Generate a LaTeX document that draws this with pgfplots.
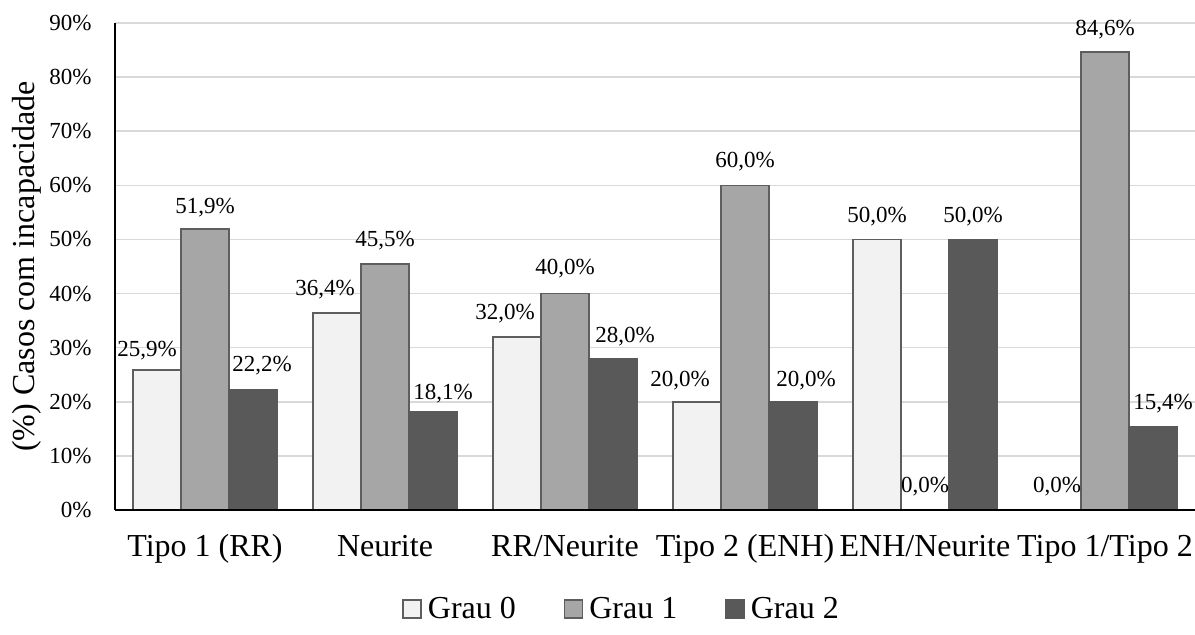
\documentclass[border=0pt]{standalone}
\usepackage{fontspec}
\setmainfont{Liberation Serif}
\usepackage{pgfplots}
\usepackage{pgfplotstable}
\pgfplotsset{compat=1.18}
\pgfkeys{/pgf/number format/assume math mode=true}

\definecolor{grauzero}{HTML}{F2F2F2}
\definecolor{grauum}{HTML}{A6A6A6}
\definecolor{graudois}{HTML}{595959}
\definecolor{borda}{HTML}{5E5E5E}
\definecolor{grade}{HTML}{D9D9D9}

% x = category index, y = percentage, dx/dy = label offsets (pt)
\pgfplotstableread{
x y dx dy
0 25.9 -5 6.5
1 36.4 -6 9
2 32.0 -6 8.5
3 20.0 -8.5 7.5
4 50.0 0 8.5
5 0.0 0 8.5
}\tabzero
\pgfplotstableread{
x y dx dy
0 51.9 0 8
1 45.5 0 8.5
2 40.0 0 9.3
3 60.0 0 9
4 0.0 0 8.5
5 84.6 0 8.5
}\tabum
\pgfplotstableread{
x y dx dy
0 22.2 4.5 9
1 18.1 5 6.5
2 28.0 6 7.75
3 20.0 6.5 7.5
4 50.0 0 8.5
5 15.4 5 8.5
}\tabdois

\begin{document}
\begin{tikzpicture}
\useasboundingbox (-57.5pt,-62.5pt) rectangle (540pt,255pt);
\begin{axis}[
  scale only axis,
  width=540pt, height=243.5pt,
  ybar=0pt, bar width=24pt,
  xmin=-0.5, xmax=5.5, ymin=0, ymax=90,
  xtick={0,...,5},
  xticklabels={Tipo 1 (RR),Neurite,RR/Neurite,Tipo 2 (ENH),ENH/Neurite,Tipo 1/Tipo 2},
  ytick={0,10,...,90},
  yticklabel={\pgfmathprintnumber{\tick}\%},
  major tick length=0pt,
  axis x line*=bottom, axis y line*=left,
  axis line style={-, black, line width=1pt},
  ymajorgrids, grid style={grade, line width=0.75pt},
  yticklabel style={font=\fontsize{11.5}{13.8}\selectfont, anchor=east, inner sep=0pt, xshift=-11.5pt},
  xticklabel style={font=\fontsize{16}{19}\selectfont, anchor=base, inner sep=0pt, yshift=-23.5pt},
  ylabel={(\%) Casos com incapacidade},
  ylabel style={font=\fontsize{16}{19}\selectfont, at={(axis description cs:-0.0741,0.5)}, anchor=base},
  nodes near coords={\pgfmathprintnumber[fixed,fixed zerofill,precision=1,use comma]{\pgfplotspointmeta}\%},
  visualization depends on={\thisrow{dx} \as \dx},
  visualization depends on={\thisrow{dy} \as \dy},
  every node near coord/.append style={font=\fontsize{11.5}{13.8}\selectfont, text=black, anchor=base, inner sep=0pt, xshift=\dx pt, yshift=\dy pt},
  every axis plot post/.append style={legend image code/.code={\draw[##1, line width=0.75pt] (0pt,-4.5pt) rectangle (9pt,4.5pt);}},
  legend style={draw=none, fill=none, at={(axis description cs:0.2602,-0.2033)}, anchor=west,
    legend columns=3, font=\fontsize{16}{19}\selectfont,
    nodes={inner xsep=3pt, inner ysep=0pt},
    /tikz/every even column/.append style={column sep=21pt}},
  legend cell align=left,
  clip=false,
]
\addplot[fill=grauzero, draw=borda, line width=0.75pt] table[x=x, y=y] {\tabzero};
\addlegendentry{Grau 0}
\addplot[fill=grauum, draw=borda, line width=0.75pt] table[x=x, y=y] {\tabum};
\addlegendentry{Grau 1}
\addplot[fill=graudois, draw=graudois, line width=0.75pt] table[x=x, y=y] {\tabdois};
\addlegendentry{Grau 2}
\draw[black, line width=1pt] (rel axis cs:0,0) -- (rel axis cs:1,0);
\end{axis}
\end{tikzpicture}
\end{document}
